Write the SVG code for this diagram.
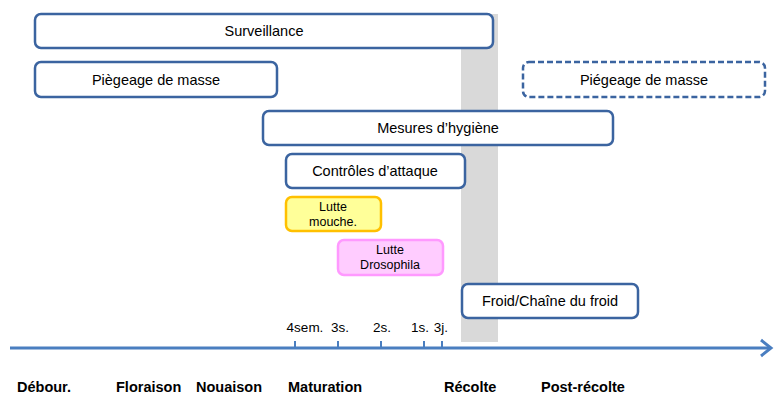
<svg xmlns="http://www.w3.org/2000/svg" width="775" height="394" viewBox="0 0 775 394">
<style>
.box{fill:#fff;stroke:#3B64A0;stroke-width:2.5}
.dash{fill:#fff;stroke:#3B64A0;stroke-width:2.5;stroke-dasharray:6 3}
.t{font-family:"Liberation Sans",Arial,sans-serif;font-size:14.5px;fill:#000;text-anchor:middle}
.s{font-family:"Liberation Sans",Arial,sans-serif;font-size:12.5px;fill:#000;text-anchor:middle}
.k{font-family:"Liberation Sans",Arial,sans-serif;font-size:13.5px;fill:#000;text-anchor:middle}
.b{font-family:"Liberation Sans",Arial,sans-serif;font-size:14.5px;font-weight:bold;fill:#000}
.tick{stroke:#4A7EC0;stroke-width:2}
</style>
<rect x="461" y="14" width="37" height="328" fill="#D9D9D9"/>
<g id="connectors">
<line x1="10" y1="348" x2="771" y2="348" stroke="#4A7EC0" stroke-width="3"/>
<polyline points="761,340 771,348 761,356" fill="none" stroke="#4A7EC0" stroke-width="3"/>
<line class="tick" x1="295" y1="341" x2="295" y2="348"/>
<line class="tick" x1="338" y1="341" x2="338" y2="348"/>
<line class="tick" x1="381" y1="341" x2="381" y2="348"/>
<line class="tick" x1="424" y1="341" x2="424" y2="348"/>
<line class="tick" x1="442" y1="341" x2="442" y2="348"/>
</g>
<g id="surveillance"><rect class="box" x="35" y="14" width="458" height="34" rx="6"/><text class="t" x="264" y="36">Surveillance</text></g>
<g id="piegeage1"><rect class="box" x="35" y="62" width="242" height="35" rx="6"/><text class="t" x="156" y="85">Piègeage de masse</text></g>
<g id="piegeage2"><rect class="dash" x="523" y="62" width="242" height="35" rx="6"/><text class="t" x="644" y="85">Piégeage de masse</text></g>
<g id="hygiene"><rect class="box" x="263" y="111" width="350" height="34" rx="6"/><text class="t" x="438" y="133">Mesures d’hygiène</text></g>
<g id="controles"><rect class="box" x="286" y="154" width="179" height="34" rx="6"/><text class="t" x="375" y="176">Contrôles d’attaque</text></g>
<g id="mouche"><rect x="286" y="197" width="95" height="34" rx="6" fill="#FFFF99" stroke="#FFC000" stroke-width="2.5"/><text class="s" x="333" y="211">Lutte</text><text class="s" x="333" y="226">mouche.</text></g>
<g id="drosophila"><rect x="338" y="240" width="105" height="35" rx="6" fill="#FFCCFF" stroke="#FF99FF" stroke-width="2.5"/><text class="s" x="390" y="254">Lutte</text><text class="s" x="390" y="269">Drosophila</text></g>
<g id="froid"><rect class="box" x="462" y="284" width="176" height="34" rx="6"/><text class="t" x="550" y="306">Froid/Chaîne du froid</text></g>
<g id="ticklabels">
<text class="k" x="305" y="332">4sem.</text>
<text class="k" x="340" y="332">3s.</text>
<text class="k" x="382" y="332">2s.</text>
<text class="k" x="420" y="332">1s.</text>
<text class="k" x="441" y="332">3j.</text>
</g>
<g id="phases">
<text class="b" x="17" y="392">Débour.</text>
<text class="b" x="116" y="392">Floraison</text>
<text class="b" x="196" y="392">Nouaison</text>
<text class="b" x="288" y="392">Maturation</text>
<text class="b" x="444" y="392">Récolte</text>
<text class="b" x="541" y="392">Post-récolte</text>
</g>
</svg>
